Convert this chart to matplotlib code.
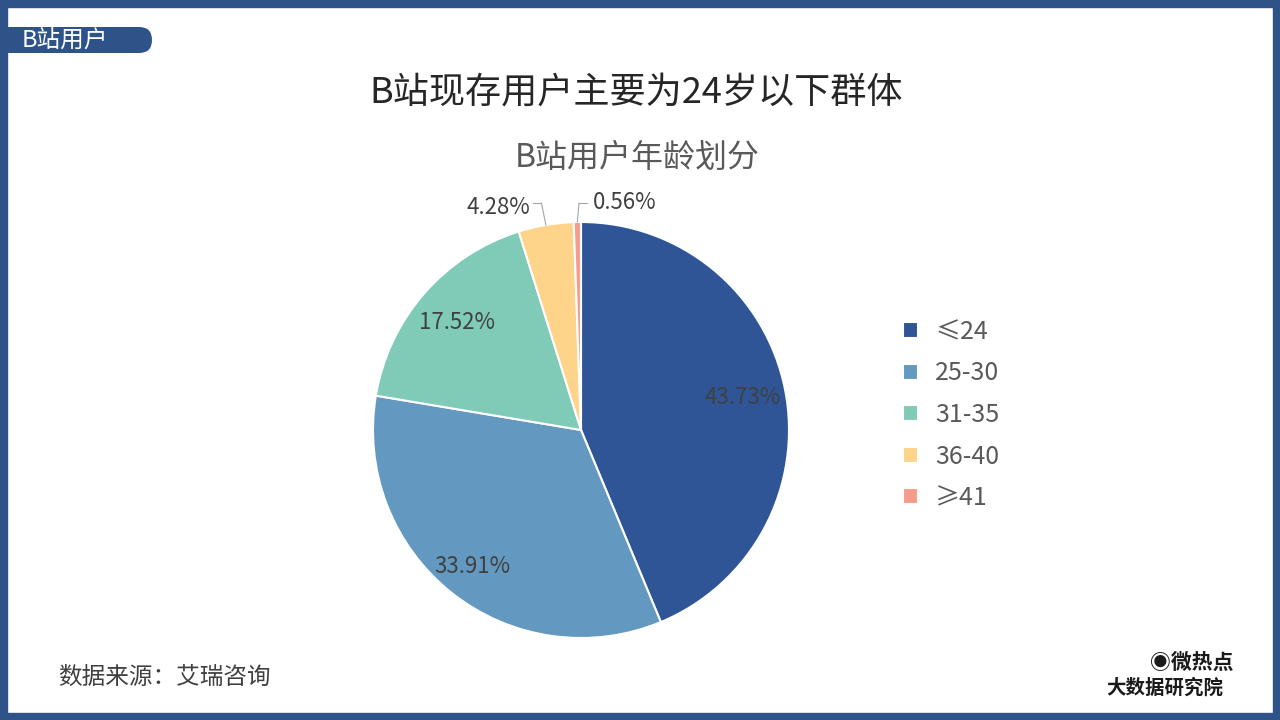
import matplotlib
matplotlib.use("Agg")
import matplotlib.pyplot as plt
import numpy as np
from matplotlib.patches import FancyBboxPatch, Rectangle

plt.rcParams['font.family'] = ['Noto Sans CJK SC', 'DejaVu Sans']

categories = ["≤24", "25-30", "31-35", "36-40", "≥41"]
values = [43.73, 33.91, 17.52, 4.28, 0.56]
colors = ["#2F5597", "#6399C0", "#80CAB8", "#FDD48A", "#F59C8C"]

W, H = 1280, 720
fig = plt.figure(figsize=(12.8, 7.2), dpi=100)
fig.patch.set_facecolor("white")

# border
bw = 7
for (x, y, w, h) in [(0, 0, W, bw), (0, H - bw, W, bw), (0, 0, bw, H), (W - bw, 0, bw, H)]:
    fig.patches.append(Rectangle((x / W, y / H), w / W, h / H, transform=fig.transFigure,
                                 color="#2E5388", zorder=0))
# tab
fig.patches.append(Rectangle((0, (720 - 53) / H), 139 / W, 26 / H, transform=fig.transFigure,
                             color="#2E5388", lw=0))
fig.patches.append(FancyBboxPatch((100, 720 - 53), 52, 26,
                                  boxstyle="round,pad=0,rounding_size=13",
                                  transform=None, color="#2E5388", lw=0))
fig.text(22 / W, (720 - 40) / H, "B站用户", color="white", fontsize=17, va="center", ha="left")

fig.text(636 / W, (720 - 93) / H, "B站现存用户主要为24岁以下群体", fontsize=26, ha="center", va="center",
         color="#262626")
fig.text(637 / W, (720 - 158) / H, "B站用户年龄划分", fontsize=23, ha="center", va="center", color="#595959")

r = 208
ax = fig.add_axes([(581 - r) / W, (720 - 430 - r) / H, 2 * r / W, 2 * r / H])
wedges, _ = ax.pie(values, colors=colors, startangle=90, counterclock=False, radius=1,
                   wedgeprops=dict(edgecolor="white", linewidth=1.5))
ax.set_xlim(-1, 1); ax.set_ylim(-1, 1)
ax.set_aspect("equal")
ax.axis("off")

tc = "#404040"
for i, w in enumerate(wedges[:3]):
    ang = np.deg2rad((w.theta1 + w.theta2) / 2)
    rr = 0.79 if i != 1 else 0.84
    ax.text(rr * np.cos(ang), rr * np.sin(ang), f"{values[i]:.2f}%", ha="center", va="center",
            fontsize=16, color=tc)

# small slices with leader lines
w = wedges[3]
ang = np.deg2rad((w.theta1 + w.theta2) / 2)
ax.plot([np.cos(ang), -0.19], [np.sin(ang), 1.09], color="#A6A6A6", lw=0.8, clip_on=False)
ax.plot([-0.19, -0.23], [1.09, 1.09], color="#A6A6A6", lw=0.8, clip_on=False)
ax.text(-0.245, 1.07, f"{values[3]:.2f}%", ha="right", va="center", fontsize=16, color=tc)
w = wedges[4]
ang = np.deg2rad((w.theta1 + w.theta2) / 2)
ax.plot([np.cos(ang), -0.01], [np.sin(ang), 1.09], color="#A6A6A6", lw=0.8, clip_on=False)
ax.plot([-0.01, 0.03], [1.09, 1.09], color="#A6A6A6", lw=0.8, clip_on=False)
ax.text(0.055, 1.095, f"{values[4]:.2f}%", ha="left", va="center", fontsize=16, color=tc)

leg = fig.legend(wedges, categories, loc="center left", bbox_to_anchor=(880 / W, (720 - 415) / H),
                 frameon=False, fontsize=18, handlelength=0.6, handleheight=0.6, labelspacing=0.62,
                 handletextpad=0.7)
for t in leg.get_texts():
    t.set_color("#595959")

fig.text(58 / W, (720 - 677) / H, "数据来源：艾瑞咨询", fontsize=17, va="center", color="#404040")
fig.text(1150 / W, (720 - 662) / H, "◉微热点", fontsize=15, fontweight="bold", ha="left", va="center",
         color="#1a1a1a")
fig.text(1165 / W, (720 - 688) / H, "大数据研究院", fontsize=14, fontweight="bold", ha="center", va="center",
         color="#1a1a1a")

fig.savefig("out.png", dpi=100)
